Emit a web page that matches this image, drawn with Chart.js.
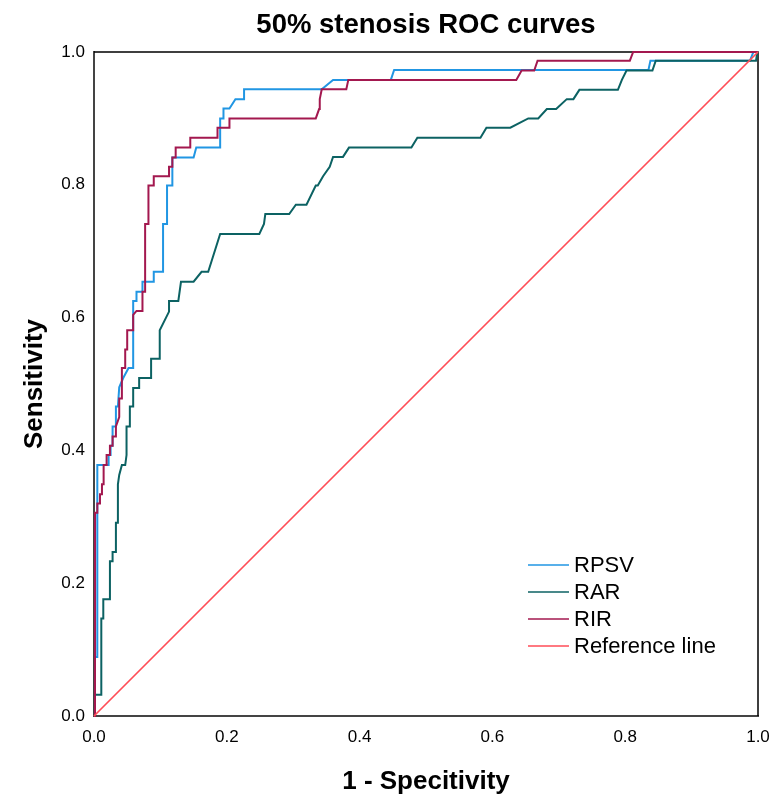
<!DOCTYPE html>
<html>
<head>
<meta charset="utf-8">
<title>50% stenosis ROC curves</title>
<script src="https://cdn.jsdelivr.net/npm/chart.js@4.4.1/dist/chart.umd.min.js"></script>
<style>
  html, body { margin: 0; padding: 0; background: #fff; }
  canvas { display: block; }
</style>
</head>
<body>
<canvas id="roc" width="772" height="799"></canvas>
<script>
// values (1 - specificity, sensitivity)
const seriesNames = ['RPSV', 'RAR', 'RIR', 'Reference line'];
const tickValues = [0, 0.2, 0.4, 0.6, 0.8, 1.0];

const rpsvX = [0, 0.0015, 0.0015, 0.005, 0.005, 0.022, 0.022, 0.025, 0.025, 0.028, 0.028, 0.033, 0.033, 0.036, 0.038,
  0.044, 0.052, 0.059, 0.059, 0.064, 0.064, 0.073, 0.073, 0.090, 0.090, 0.104, 0.104, 0.110, 0.110, 0.118, 0.118,
  0.150, 0.154, 0.190, 0.190, 0.195, 0.195, 0.204, 0.213, 0.226, 0.226, 0.343, 0.360, 0.447, 0.452, 0.835, 0.838,
  0.988, 0.993, 1];
const rpsvY = [0, 0, 0.089, 0.089, 0.378, 0.378, 0.393, 0.393, 0.407, 0.407, 0.436, 0.436, 0.466, 0.466, 0.495,
  0.509, 0.524, 0.524, 0.625, 0.625, 0.639, 0.639, 0.654, 0.654, 0.669, 0.669, 0.741, 0.741, 0.799, 0.799, 0.841,
  0.841, 0.856, 0.856, 0.900, 0.900, 0.915, 0.915, 0.929, 0.929, 0.944, 0.944, 0.958, 0.958, 0.973, 0.973, 0.987,
  0.987, 1.0, 1.0];

const rarX = [0, 0.0015, 0.0015, 0.011, 0.011, 0.014, 0.014, 0.024, 0.024, 0.028, 0.028, 0.033, 0.033, 0.036, 0.036,
  0.038, 0.042, 0.047, 0.049, 0.049, 0.054, 0.054, 0.059, 0.059, 0.068, 0.068, 0.086, 0.086, 0.099, 0.099, 0.113,
  0.113, 0.127, 0.131, 0.150, 0.162, 0.172, 0.190, 0.249, 0.256, 0.258, 0.294, 0.304, 0.320, 0.334, 0.337, 0.345,
  0.355, 0.360, 0.375, 0.384, 0.478, 0.487, 0.582, 0.591, 0.627, 0.654, 0.669, 0.682, 0.696, 0.712, 0.722, 0.731,
  0.789, 0.795, 0.802, 0.841, 0.846, 0.997, 0.999, 1];
const rarY = [0, 0, 0.032, 0.032, 0.147, 0.147, 0.176, 0.176, 0.233, 0.233, 0.247, 0.247, 0.291, 0.291, 0.349,
  0.363, 0.378, 0.378, 0.393, 0.436, 0.436, 0.466, 0.466, 0.494, 0.494, 0.509, 0.509, 0.538, 0.538, 0.581, 0.609,
  0.625, 0.625, 0.654, 0.654, 0.669, 0.669, 0.726, 0.726, 0.741, 0.756, 0.756, 0.770, 0.770, 0.799, 0.799, 0.813,
  0.827, 0.842, 0.842, 0.856, 0.856, 0.871, 0.871, 0.886, 0.886, 0.900, 0.900, 0.914, 0.914, 0.929, 0.929, 0.943,
  0.943, 0.958, 0.972, 0.972, 0.987, 0.987, 1.0, 1.0];

const rirX = [0, 0.0015, 0.0015, 0.005, 0.005, 0.009, 0.009, 0.012, 0.012, 0.014, 0.014, 0.015, 0.019, 0.019, 0.024,
  0.024, 0.028, 0.028, 0.033, 0.033, 0.038, 0.038, 0.042, 0.042, 0.047, 0.047, 0.050, 0.050, 0.059, 0.059, 0.064,
  0.073, 0.073, 0.077, 0.077, 0.082, 0.082, 0.090, 0.090, 0.113, 0.113, 0.118, 0.118, 0.123, 0.123, 0.145, 0.145,
  0.186, 0.186, 0.204, 0.204, 0.334, 0.339, 0.340, 0.343, 0.380, 0.383, 0.636, 0.644, 0.663, 0.668, 0.807, 0.812, 1];
const rirY = [0, 0, 0.306, 0.306, 0.320, 0.320, 0.334, 0.334, 0.349, 0.349, 0.363, 0.378, 0.378, 0.393, 0.393,
  0.407, 0.407, 0.421, 0.421, 0.436, 0.450, 0.478, 0.478, 0.524, 0.524, 0.552, 0.552, 0.581, 0.581, 0.604, 0.610,
  0.610, 0.639, 0.639, 0.741, 0.741, 0.799, 0.799, 0.813, 0.813, 0.827, 0.827, 0.841, 0.841, 0.856, 0.856, 0.871,
  0.871, 0.886, 0.886, 0.900, 0.900, 0.914, 0.929, 0.944, 0.944, 0.958, 0.958, 0.972, 0.972, 0.987, 0.987, 1.0, 1.0];

const refX = [0, 1];
const refY = [0, 1];

const FONT = '"Liberation Sans", Arial, sans-serif';

function toPoints(xs, ys) {
  return xs.map((x, i) => ({ x: x, y: ys[i] }));
}

// top and right edges of the plot frame
const frameEdges = {
  id: 'frameEdges',
  beforeDatasetsDraw(chart) {
    const { ctx, chartArea: a } = chart;
    ctx.save();
    ctx.strokeStyle = '#000';
    ctx.lineWidth = 1.5;
    ctx.beginPath();
    ctx.moveTo(a.left, a.top);
    ctx.lineTo(a.right, a.top);
    ctx.lineTo(a.right, a.bottom);
    ctx.stroke();
    ctx.restore();
  }
};

// legend sitting inside the plot, lower right
const insideLegend = {
  id: 'insideLegend',
  afterDraw(chart) {
    const { ctx, chartArea: a } = chart;
    const x0 = a.left + 434, y0 = a.top + 513;
    ctx.save();
    ctx.font = '22px ' + FONT;
    ctx.textBaseline = 'middle';
    ctx.textAlign = 'left';
    chart.data.datasets.forEach((ds, i) => {
      const y = y0 + i * 27;
      ctx.strokeStyle = ds.borderColor;
      ctx.lineWidth = 1.5;
      ctx.beginPath();
      ctx.moveTo(x0, y);
      ctx.lineTo(x0 + 41, y);
      ctx.stroke();
      ctx.fillStyle = '#000';
      ctx.fillText(ds.label, x0 + 46, y + 1);
    });
    ctx.restore();
  }
};

function lineSet(label, xs, ys, color, width, order) {
  return {
    label: label,
    data: toPoints(xs, ys),
    borderColor: color,
    backgroundColor: color,
    borderWidth: width,
    showLine: true,
    pointRadius: 0,
    pointHoverRadius: 0,
    tension: 0,
    clip: 3,
    order: order
  };
}

new Chart(document.getElementById('roc'), {
  type: 'scatter',
  data: {
    datasets: [
      lineSet(seriesNames[0], rpsvX, rpsvY, '#2196e3', 2, 4),
      lineSet(seriesNames[1], rarX, rarY, '#0c6263', 2, 3),
      lineSet(seriesNames[2], rirX, rirY, '#a3184f', 2, 2),
      lineSet(seriesNames[3], refX, refY, '#ff4d57', 1.7, 1)
    ]
  },
  options: {
    responsive: false,
    animation: false,
    layout: { padding: { left: 0, right: 14, top: 0, bottom: 0 } },
    plugins: {
      legend: { display: false },
      tooltip: { enabled: false },
      title: {
        display: true,
        text: '50% stenosis ROC curves',
        fullSize: false,
        color: '#000',
        font: { family: FONT, size: 27.5, weight: 'bold' },
        padding: { top: 9, bottom: 10 }
      }
    },
    scales: {
      x: {
        type: 'linear',
        min: 0,
        max: 1,
        afterBuildTicks: s => { s.ticks = tickValues.map(v => ({ value: v })); },
        afterFit: s => { s.height = 83; s.paddingLeft = 0; s.paddingRight = 0; },
        grid: { display: false, drawTicks: false },
        border: { display: true, color: '#444', width: 2 },
        ticks: {
          padding: 11,
          color: '#000',
          font: { family: FONT, size: 17 },
          maxRotation: 0,
          callback: v => v.toFixed(1)
        },
        title: {
          display: true,
          text: '1 - Specitivity',
          color: '#000',
          font: { family: FONT, size: 26, weight: 'bold' },
          padding: { top: 0, bottom: 2 }
        }
      },
      y: {
        type: 'linear',
        min: 0,
        max: 1,
        afterBuildTicks: s => { s.ticks = tickValues.map(v => ({ value: v })); },
        afterFit: s => { s.width = 94; },
        grid: { display: false, drawTicks: false },
        border: { display: true, color: '#444', width: 2 },
        ticks: {
          padding: 9,
          color: '#000',
          font: { family: FONT, size: 17 },
          callback: v => v.toFixed(1)
        },
        title: {
          display: true,
          text: 'Sensitivity',
          color: '#000',
          font: { family: FONT, size: 26, weight: 'bold' },
          padding: { top: 19, bottom: 0 }
        }
      }
    }
  },
  plugins: [frameEdges, insideLegend]
});
</script>
</body>
</html>
